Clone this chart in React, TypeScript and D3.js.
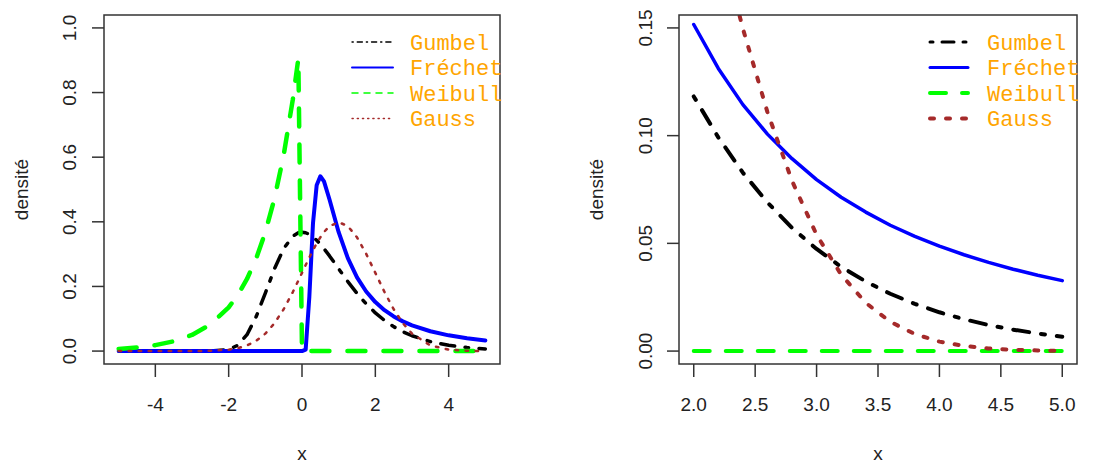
import * as d3 from 'd3';

// Values (densities).
const leftX = [-5, -4.5, -4, -3.5, -3, -2.5, -2, -1.75, -1.5, -1.25, -1, -0.75, -0.5, -0.25, -0.1, 0, 0.1, 0.2, 0.3, 0.4, 0.5, 0.6, 0.75, 1, 1.25, 1.5, 1.75, 2, 2.25, 2.5, 2.75, 3, 3.5, 4, 4.5, 5];
const leftGumbel = [0, 0, 0, 0, 0, 0.0001, 0.0046, 0.0182, 0.0507, 0.1065, 0.1794, 0.2549, 0.317, 0.3555, 0.366, 0.3679, 0.3661, 0.3611, 0.3532, 0.3429, 0.3307, 0.317, 0.2945, 0.2546, 0.2151, 0.1785, 0.146, 0.1182, 0.0949, 0.0756, 0.06, 0.0474, 0.0293, 0.018, 0.011, 0.0067];
const leftFrechet = [0, 0, 0, 0, 0, 0, 0, 0, 0, 0, 0, 0, 0, 0, 0, 0, 0.0045, 0.168, 0.396, 0.513, 0.541, 0.525, 0.469, 0.3679, 0.2876, 0.2282, 0.1844, 0.1516, 0.1267, 0.1073, 0.0919, 0.0796, 0.0613, 0.0487, 0.0395, 0.0327];
const leftWeibull = [0.0067, 0.0111, 0.0183, 0.0302, 0.0498, 0.0821, 0.1353, 0.1738, 0.2231, 0.2865, 0.3679, 0.4724, 0.6065, 0.7788, 0.9048, 0, 0, 0, 0, 0, 0, 0, 0, 0, 0, 0, 0, 0, 0, 0, 0, 0, 0, 0, 0, 0];
const leftGauss = [0, 0, 0, 0, 0.0001, 0.0009, 0.0044, 0.0091, 0.0175, 0.0317, 0.054, 0.0863, 0.1295, 0.1826, 0.2179, 0.242, 0.2661, 0.2897, 0.3123, 0.3332, 0.3521, 0.3683, 0.3867, 0.3989, 0.3867, 0.3521, 0.3011, 0.242, 0.1826, 0.1295, 0.0863, 0.054, 0.0175, 0.0044, 0.0009, 0.0001];

const rightX = [2, 2.2, 2.4, 2.6, 2.8, 3, 3.2, 3.4, 3.6, 3.8, 4, 4.2, 4.4, 4.6, 4.8, 5];
const rightGumbel = [0.1182, 0.0992, 0.0828, 0.069, 0.0572, 0.0474, 0.0391, 0.0323, 0.0266, 0.0219, 0.018, 0.0148, 0.0121, 0.00995, 0.00817, 0.00669];
const rightFrechet = [0.1516, 0.1312, 0.1144, 0.1007, 0.0893, 0.0796, 0.0714, 0.0645, 0.0584, 0.0532, 0.0487, 0.0447, 0.0412, 0.038, 0.0352, 0.0327];
const rightWeibull = [0, 0, 0, 0, 0, 0, 0, 0, 0, 0, 0, 0, 0, 0, 0, 0];
const rightGauss = [0.242, 0.1942, 0.1497, 0.1109, 0.079, 0.054, 0.0355, 0.0224, 0.0136, 0.0079, 0.0044, 0.0024, 0.0012, 0.0006, 0.0003, 0.0001];

const names = ['Gumbel', 'Fréchet', 'Weibull', 'Gauss'];
const colors = ['#000000', '#0000ff', '#00ff00', '#a52a2a'];
const ltys = ['1343', '', '44', '13'];

const leftXTicks = [-4, -2, 0, 2, 4];
const leftYTicks = [0, 0.2, 0.4, 0.6, 0.8, 1.0];
const rightXTicks = [2, 2.5, 3, 3.5, 4, 4.5, 5];
const rightYTicks = [0, 0.05, 0.1, 0.15];

const sans = '"Liberation Sans", Arial, sans-serif';
const mono = '"Liberation Mono", "Courier New", monospace';

// R style lty -> svg dasharray
function dash(lty: string, lwd: number) {
  if (!lty) return undefined;
  return lty.split('').map(c => +c * lwd).join(' ');
}

function Panel(props: any) {
  const { id, xs, ys, xDomain, yDomain, box, xTicks, yTicks, xFmt, yFmt, lwds, legend, yLabX, yTitleX } = props;
  const x = d3.scaleLinear().domain(xDomain).range([box.left, box.right]);
  const y = d3.scaleLinear().domain(yDomain).range([box.bottom, box.top]);
  const line = d3.line<number>().x((_, i) => x(xs[i])).y(d => y(d));
  const cy = (box.top + box.bottom) / 2;
  const cx = (box.left + box.right) / 2;

  return (
    <g>
      <defs>
        <clipPath id={id}>
          <rect x={box.left} y={box.top} width={box.right - box.left} height={box.bottom - box.top} />
        </clipPath>
      </defs>
      <g clipPath={`url(#${id})`}>
        {ys.map((s: number[], i: number) => (
          <path key={i} d={line(s) || ''} fill="none" stroke={colors[i]} strokeWidth={lwds[i]}
            strokeDasharray={dash(ltys[i], lwds[i])} strokeLinecap="round" strokeLinejoin="round" />
        ))}
      </g>
      <rect x={box.left} y={box.top} width={box.right - box.left} height={box.bottom - box.top}
        fill="none" stroke="#333" strokeWidth={1.5} />
      {xTicks.map((t: number) => (
        <g key={t}>
          <line x1={x(t)} x2={x(t)} y1={box.bottom} y2={box.bottom + 13} stroke="#333" strokeWidth={1.5} />
          <text x={x(t)} y={411} textAnchor="middle" fontSize={19} fontFamily={sans} fill="#222">{xFmt(t)}</text>
        </g>
      ))}
      {yTicks.map((t: number) => (
        <g key={t}>
          <line x1={box.left} x2={box.left - 12} y1={y(t)} y2={y(t)} stroke="#333" strokeWidth={1.5} />
          <text transform={`translate(${yLabX},${y(t)}) rotate(-90)`} textAnchor="middle" fontSize={19}
            fontFamily={sans} fill="#222">{yFmt(t)}</text>
        </g>
      ))}
      <text x={cx} y={460} textAnchor="middle" fontSize={19} fontFamily={sans} fill="#222">x</text>
      <text transform={`translate(${yTitleX},${cy}) rotate(-90)`} textAnchor="middle" fontSize={19}
        fontFamily={sans} fill="#222">densité</text>
      {names.map((n, i) => {
        const ly = legend.y0 + i * legend.dy;
        return (
          <g key={n}>
            <line x1={legend.x1} x2={legend.x2} y1={ly} y2={ly} stroke={colors[i]} strokeWidth={legend.lwd[i]}
              strokeDasharray={dash(ltys[i], legend.lwd[i])} strokeLinecap="round" />
            <text x={legend.tx} y={ly} dy="0.35em" fontSize={22} fontFamily={mono} fill="#ffa500">{n}</text>
          </g>
        );
      })}
    </g>
  );
}

export default function App() {
  return (
    <svg width={1104} height={463} style={{ position: 'absolute', left: 0, top: 0, background: '#fff' }}>
      <Panel id="clipL" xs={leftX} ys={[leftGumbel, leftFrechet, leftWeibull, leftGauss]}
        xDomain={[-5.4, 5.4]} yDomain={[-0.04, 1.04]}
        box={{ left: 104, right: 500, top: 15, bottom: 364 }}
        xTicks={leftXTicks} yTicks={leftYTicks}
        xFmt={(t: number) => String(t)} yFmt={d3.format('.1f')}
        lwds={[3.5, 4, 4.5, 2.5]} yLabX={76} yTitleX={28}
        legend={{ x1: 352, x2: 393, tx: 410, y0: 42, dy: 25.5, lwd: [1.3, 2, 1.5, 1.3] }} />
      <Panel id="clipR" xs={rightX} ys={[rightGumbel, rightFrechet, rightWeibull, rightGauss]}
        xDomain={[1.88, 5.12]} yDomain={[-0.006, 0.156]}
        box={{ left: 679, right: 1077, top: 15, bottom: 364 }}
        xTicks={rightXTicks} yTicks={rightYTicks}
        xFmt={d3.format('.1f')} yFmt={d3.format('.2f')}
        lwds={[4, 3.5, 4, 4]} yLabX={652} yTitleX={603}
        legend={{ x1: 930, x2: 968, tx: 987, y0: 42, dy: 25.5, lwd: [3, 3, 4, 4] }} />
    </svg>
  );
}
